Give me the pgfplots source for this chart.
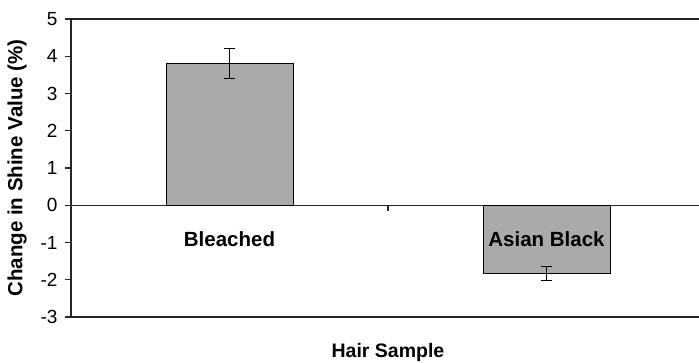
\documentclass[border=0pt]{standalone}
\usepackage{fontspec}
\setmainfont{Liberation Sans}
\usepackage{pgfplots}
\pgfplotsset{compat=1.18}
\definecolor{barfill}{RGB}{170,170,170}
\begin{document}
\begin{tikzpicture}
\begin{axis}[
  at={(0,0)}, anchor=south west,
  scale only axis, width=634pt, height=298pt,
  xmin=-0.5, xmax=1.5, ymin=-3, ymax=5,
  ybar, bar width=127pt,
  axis on top,
  axis line style={line width=1.1pt, black!85},
  ytick={-3,-2,-1,0,1,2,3,4,5},
  ytick pos=left,
  tick align=outside,
  major tick length=6pt,
  y tick style={line width=1.1pt, black!85},
  /pgf/number format/assume math mode=true,
  yticklabel style={font=\fontsize{19}{22}\selectfont, xshift=-4pt},
  xtick={0,1},
  xticklabels={Bleached, Asian Black},
  x tick style={draw=none},
  xticklabel style={font=\bfseries\fontsize{20.5}{24}\selectfont, anchor=center, yshift=83.5pt},
  xlabel={Hair Sample},
  xlabel style={font=\bfseries\fontsize{19.5}{23}\selectfont, at={(rel axis cs:0.5,0)}, anchor=base, yshift=-40pt},
  ylabel={Change in Shine Value (\%)},
  ylabel style={font=\bfseries\fontsize{20.5}{24}\selectfont, at={(rel axis cs:0,0.5)}, anchor=center, yshift=54pt},
]
\draw[line width=1.1pt, black!85] (axis cs:-0.5,0) -- (axis cs:1.5,0);
\draw[line width=1.1pt, black!85] (axis cs:0.5,0) -- ([yshift=-6pt]axis cs:0.5,0);
\addplot[fill=barfill, draw=black, line width=0.9pt,
  error bars/.cd, y dir=both, y explicit,
  error bar style={line width=1pt, black},
  error mark options={rotate=90, mark size=5.5pt, line width=1pt, black}]
  coordinates {(0,3.8) +- (0,0.41) (1,-1.83) +- (0,0.19)};
\end{axis}
\pgfresetboundingbox
\path[use as bounding box] (-71pt,-45pt) rectangle (628pt,317pt);
\end{tikzpicture}
\end{document}
